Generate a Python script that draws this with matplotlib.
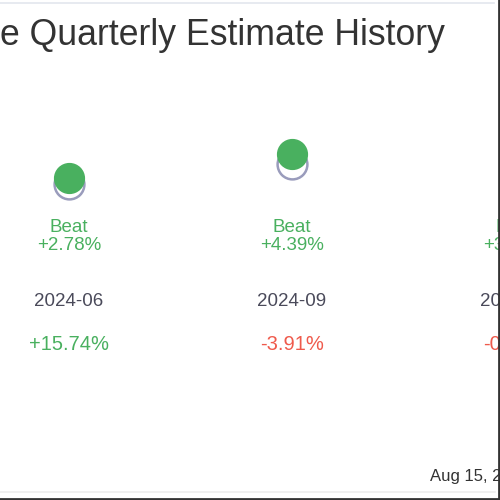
import matplotlib
matplotlib.use("Agg")
import matplotlib.pyplot as plt
from matplotlib.lines import Line2D

plt.rcParams["font.family"] = ["Liberation Sans", "DejaVu Sans"]

quarters = ["2024-06", "2024-09", "2024-12"]
estimate = [0.860, 0.940, 0.990]
actual = [0.884, 0.981, 1.020]
surprise_labels = ["+2.78%", "+4.39%", "+3.03%"]
result_labels = ["Beat", "Beat", "Beat"]
price_change = [15.74, -3.91, -0.58]

title = "e Quarterly Estimate History"
date_note = "Aug 15, 2025"

green = "#49b05f"
red = "#ef5a4c"
est_edge = "#9a9cbc"

fig = plt.figure(figsize=(5, 5), dpi=100)
ax = fig.add_axes([0, 0, 1, 1])
ax.set_xlim(-0.3094, 1.9327)
ax.set_ylim(-0.404, 1.596)
ax.axis("off")

x = list(range(len(quarters)))

# estimate (hollow) then actual (filled) on top
ax.scatter(x, estimate, s=460, facecolor="white", edgecolor=est_edge, linewidth=1.8, zorder=2)
ax.scatter(x, actual, s=460, color=green, zorder=3)

trans = ax.get_xaxis_transform()
for i, q in enumerate(quarters):
    ax.text(i, 0.546, result_labels[i], transform=trans, ha="center", va="center",
            fontsize=13.5, color=green)
    ax.text(i, 0.508, surprise_labels[i], transform=trans, ha="center", va="center",
            fontsize=13.5, color=green)
    ax.text(i, 0.397, q, transform=trans, ha="center", va="center",
            fontsize=13.5, color="#4a4a5a")
    pc = price_change[i]
    ax.text(i, 0.312, f"{pc:+.2f}%", transform=trans, ha="center", va="center",
            fontsize=14.5, color=green if pc >= 0 else red)

fig.text(0.0, 0.91, title, ha="left", va="baseline", fontsize=25.7, color="#333333")
fig.text(0.86, 0.038, date_note, ha="left", va="baseline", fontsize=12, color="#333333")

# frame lines of the cropped card
fig.add_artist(Line2D([0, 0.988], [0.994, 0.994], color="#e3e6ee", lw=1.2))
fig.add_artist(Line2D([0, 0.99], [0.016, 0.016], color="#eeeeee", lw=1.2))
fig.add_artist(Line2D([0.997, 0.997], [0, 1], color="#333333", lw=2))
fig.add_artist(Line2D([0, 1], [0.003, 0.003], color="#333333", lw=2))

fig.savefig("out.png", dpi=100)
